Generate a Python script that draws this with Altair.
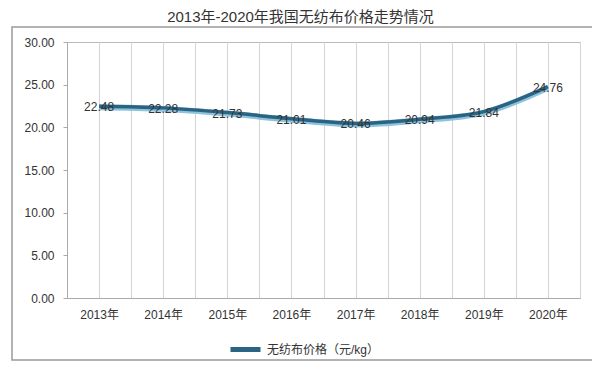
import altair as alt
import pandas as pd

years = ["2013年", "2014年", "2015年", "2016年", "2017年", "2018年", "2019年", "2020年"]
prices = [22.48, 22.28, 21.73, 21.01, 20.46, 20.94, 21.84, 24.76]
series_name = "无纺布价格（元/kg）"
title_text = "2013年-2020年我国无纺布价格走势情况"

df = pd.DataFrame({
    "idx": list(range(len(years))),
    "year": years,
    "price": prices,
    "series": [series_name] * len(years),
})

FONT = "Liberation Sans, Arial, Noto Sans CJK SC"
W, H = 513, 256

year_array = "[" + ",".join("'" + y + "'" for y in years) + "]"
grid_vals = [i / 2 - 0.5 for i in range(2 * len(years) + 1)]

x_enc = alt.X(
    "idx:Q",
    scale=alt.Scale(domain=[-0.5, len(years) - 0.5], nice=False, zero=False),
    axis=alt.Axis(
        title=None, values=grid_vals, grid=True, gridColor="#d4d4d4",
        ticks=False, domainColor="#aaaaaa", labelFontSize=12, labelColor="#333333",
        labelPadding=11, labelFont=FONT, labelOverlap=False, labelFlush=False,
        labelExpr="datum.value % 1 === 0 ? " + year_array + "[datum.value] : ''",
    ),
)
y_enc = alt.Y(
    "price:Q",
    scale=alt.Scale(domain=[0, 30]),
    axis=alt.Axis(
        title=None, values=[0, 5, 10, 15, 20, 25, 30], format=".2f", grid=False,
        tickSize=4, tickColor="#aaaaaa", domainColor="#aaaaaa", labelFontSize=12,
        labelColor="#333333", labelPadding=9, labelFont=FONT,
    ),
)

base = alt.Chart(df)

frame = alt.Chart(alt.Data(values=[{"a": 1}])).mark_rect(
    fill="transparent", stroke="#9a9a9a", strokeWidth=1.5
).encode(x=alt.value(-55), x2=alt.value(527), y=alt.value(-15), y2=alt.value(318))

glow = base.mark_line(interpolate="catmull-rom", color="#8ec3de", strokeWidth=6, yOffset=1).encode(
    x=x_enc, y=y_enc
)
line = base.mark_line(interpolate="catmull-rom", strokeWidth=3.5).encode(
    x=x_enc,
    y=y_enc,
    color=alt.Color(
        "series:N",
        scale=alt.Scale(range=["#2b6383"]),
        legend=alt.Legend(
            title=None, orient="none", legendX=161, legendY=290, symbolType="stroke",
            symbolStrokeWidth=5, symbolSize=900, labelFontSize=12, labelColor="#333333",
            labelFont=FONT, symbolOffset=0,
        ),
    ),
)
labels = base.mark_text(fontSize=12, color="#333333", font=FONT, dy=1).encode(
    x=x_enc, y=y_enc, text=alt.Text("price:Q", format=".2f")
)

chart = (
    alt.layer(frame, glow, line, labels)
    .properties(
        width=W,
        height=H,
        autosize=alt.AutoSizeParams(type="none"),
        padding={"left": 59, "top": 34, "right": 12, "bottom": 66},
        title=alt.TitleParams(
            text=title_text, fontSize=15, fontWeight="normal", color="#333333",
            font=FONT, anchor="middle", dx=-23, offset=1,
        ),
    )
    .configure_view(stroke="#bbbbbb")
)

chart.save("out.html", embed_options={"renderer": "svg", "actions": False})
